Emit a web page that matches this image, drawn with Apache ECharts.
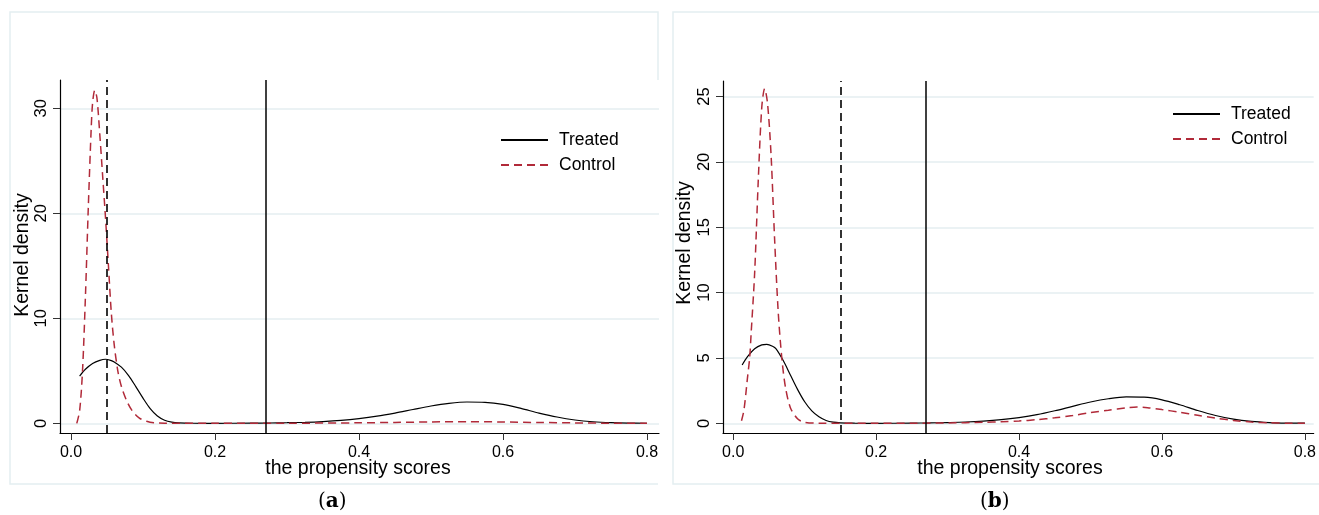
<!DOCTYPE html>
<html>
<head>
<meta charset="utf-8">
<script src="https://cdn.jsdelivr.net/npm/echarts@6/dist/echarts.min.js"></script>
<style>
html,body{margin:0;padding:0;background:#fff;}
#main{width:1319px;height:515px;}
</style>
</head>
<body>
<div id="main"></div>
<script>
// ---- data ----
const xTickValues = [0, 0.2, 0.4, 0.6, 0.8];
const yTickValuesA = [0, 10, 20, 30];
const yTickValuesB = [0, 5, 10, 15, 20, 25];
const seriesNames = ['Treated', 'Control'];
const cutoffDashed = [0.052, 0.1535];   // panel a, panel b
const cutoffSolid = [0.266, 0.266];     // panel a, panel b

// panel (a)
const treatedAx = [0.012, 0.02, 0.03, 0.04, 0.048, 0.055, 0.06, 0.07, 0.08, 0.09, 0.1, 0.11, 0.12, 0.13, 0.14, 0.15, 0.17, 0.2, 0.25, 0.275, 0.3, 0.325, 0.35, 0.375, 0.4, 0.425, 0.45, 0.475, 0.5, 0.525, 0.55, 0.575, 0.6, 0.625, 0.65, 0.675, 0.7, 0.725, 0.75, 0.775, 0.8];
const treatedAy = [4.5, 5.15, 5.7, 6.0, 6.1, 6.0, 5.85, 5.35, 4.55, 3.5, 2.4, 1.4, 0.7, 0.3, 0.12, 0.05, 0.01, 0.0, 0.02, 0.03, 0.06, 0.1, 0.17, 0.28, 0.45, 0.68, 0.98, 1.32, 1.65, 1.9, 2.03, 2.0, 1.8, 1.42, 0.98, 0.6, 0.32, 0.15, 0.06, 0.02, 0.01];
const controlAx = [0.008, 0.012, 0.016, 0.02, 0.024, 0.028, 0.03, 0.033, 0.036, 0.04, 0.044, 0.048, 0.052, 0.056, 0.06, 0.065, 0.07, 0.077, 0.085, 0.095, 0.105, 0.115, 0.13, 0.2, 0.3, 0.4, 0.45, 0.5, 0.55, 0.6, 0.65, 0.7, 0.75, 0.8];
const controlAy = [0.0, 1.2, 5.0, 12.0, 20.5, 28.0, 30.5, 31.7, 31.0, 27.5, 23.5, 19.5, 15.0, 10.5, 7.5, 5.0, 3.5, 2.2, 1.2, 0.5, 0.2, 0.06, 0.02, 0.0, 0.01, 0.05, 0.09, 0.13, 0.16, 0.13, 0.08, 0.04, 0.01, 0.0];

// panel (b)
const treatedBx = [0.0125, 0.02, 0.03, 0.04, 0.047, 0.055, 0.06, 0.07, 0.08, 0.09, 0.1, 0.11, 0.12, 0.13, 0.14, 0.15, 0.17, 0.2, 0.25, 0.275, 0.3, 0.325, 0.35, 0.375, 0.4, 0.425, 0.45, 0.475, 0.5, 0.525, 0.55, 0.575, 0.6, 0.625, 0.65, 0.675, 0.7, 0.725, 0.75, 0.775, 0.8];
const treatedBy = [4.46, 5.1, 5.7, 6.0, 6.04, 5.9, 5.7, 4.8, 3.7, 2.6, 1.65, 0.95, 0.5, 0.22, 0.09, 0.04, 0.01, 0.0, 0.02, 0.03, 0.06, 0.1, 0.17, 0.28, 0.44, 0.66, 0.96, 1.3, 1.63, 1.88, 2.02, 2.0, 1.8, 1.42, 0.98, 0.6, 0.32, 0.15, 0.06, 0.02, 0.01];
const controlBx = [0.0116, 0.015, 0.02, 0.023, 0.025, 0.03, 0.035, 0.04, 0.044, 0.048, 0.053, 0.058, 0.063, 0.068, 0.073, 0.08, 0.09, 0.1, 0.12, 0.2, 0.25, 0.3, 0.35, 0.375, 0.4, 0.425, 0.45, 0.475, 0.5, 0.525, 0.55, 0.565, 0.58, 0.6, 0.625, 0.65, 0.675, 0.7, 0.725, 0.75, 0.775, 0.8];
const controlBy = [0.2, 1.0, 3.5, 5.0, 6.8, 11.5, 18.5, 24.2, 25.6, 24.5, 20.5, 14.0, 8.5, 5.0, 2.8, 1.2, 0.35, 0.08, 0.01, 0.0, 0.01, 0.03, 0.08, 0.12, 0.18, 0.28, 0.42, 0.6, 0.82, 1.0, 1.18, 1.25, 1.2, 1.05, 0.85, 0.62, 0.4, 0.22, 0.1, 0.04, 0.01, 0.0];

// ---- chart ----
const RED = '#b12a39';
const GRIDC = '#e4eef1';
const FONT = '"Liberation Sans", Arial, sans-serif';
function pairs(xs, ys) { return xs.map((x, i) => [x, ys[i]]); }

function xAxisDef(gi, min, max) {
  return {
    gridIndex: gi, type: 'value', min: min, max: max,
    axisLine: { onZero: false, lineStyle: { color: '#000', width: 1.2 } },
    axisTick: { show: true, length: 7, customValues: xTickValues, lineStyle: { color: '#333', width: 1 } },
    axisLabel: { customValues: xTickValues, formatter: v => v.toFixed(1), color: '#000', fontSize: 16, margin: 12, fontFamily: FONT },
    splitLine: { show: false }
  };
}
function yAxisDef(gi, min, max, ticks) {
  return {
    gridIndex: gi, type: 'value', min: min, max: max,
    axisLine: { show: true, onZero: false, lineStyle: { color: '#000', width: 1.2 } },
    axisTick: { show: true, length: 7, customValues: ticks, lineStyle: { color: '#333', width: 1 } },
    axisLabel: { customValues: ticks, rotate: 90, color: '#000', fontSize: 16.5, margin: 10, fontFamily: FONT },
    splitLine: { show: true, lineStyle: { color: GRIDC, width: 1.5 } }
  };
}
function lineSeries(name, gi, data, isControl, marks) {
  const s = {
    name: name, type: 'line', xAxisIndex: gi, yAxisIndex: gi,
    data: data, symbol: 'none', showSymbol: false, smooth: 0.3,
    lineStyle: isControl ? { color: RED, width: 1.5, type: [8, 5] } : { color: '#000', width: 1.2 },
    itemStyle: { color: isControl ? RED : '#000' },
    z: isControl ? 4 : 3
  };
  if (marks) {
    s.markLine = {
      silent: true, symbol: ['none', 'none'], label: { show: false },
      data: [
        { xAxis: marks[0], lineStyle: { color: '#000', width: 1.6, type: [8, 5] } },
        { xAxis: marks[1], lineStyle: { color: '#000', width: 1.5, type: 'solid' } }
      ]
    };
  }
  return s;
}
function legendDef(left, top) {
  return {
    data: seriesNames, orient: 'vertical', left: left, top: top,
    itemWidth: 47, itemHeight: 18, itemGap: 7, padding: 0, selectedMode: false,
    itemStyle: { opacity: 0, borderWidth: 0 },
    textStyle: { fontSize: 17.5, color: '#000', fontFamily: FONT, lineHeight: 18, padding: [0, 0, 0, 6] }
  };
}
function caption(letter, cx) {
  return {
    type: 'text', left: cx - 14, top: 492,
    style: {
      text: '{p|(}{b|' + letter + '}{p|)}',
      rich: {
        p: { fontSize: 20, fontFamily: '"DejaVu Serif", "Liberation Serif", serif', fill: '#000' },
        b: { fontSize: 20, fontWeight: 'bold', fontFamily: '"DejaVu Serif", "Liberation Serif", serif', fill: '#000' }
      }
    }
  };
}
function textEl(txt, x, y, rot) {
  return {
    type: 'text', x: x, y: y, rotation: rot || 0,
    style: { text: txt, fontSize: 19.5, fontFamily: FONT, fill: '#000', align: 'center', verticalAlign: 'middle' }
  };
}

const chart = echarts.init(document.getElementById('main'), null, { renderer: 'canvas' });
chart.setOption({
  animation: false,
  backgroundColor: '#fff',
  textStyle: { fontFamily: FONT },
  grid: [
    { left: 60, top: 80, width: 599, height: 353 },
    { left: 723, top: 81, width: 596, height: 352 }
  ],
  xAxis: [xAxisDef(0, -0.01528, 0.81667), xAxisDef(1, -0.01429, 0.8123)],
  yAxis: [yAxisDef(0, -0.92, 32.69, yTickValuesA), yAxisDef(1, -0.74, 26.19, yTickValuesB)],
  legend: [legendDef(500, 131), legendDef(1172, 105)],
  series: [
    lineSeries('Treated', 0, pairs(treatedAx, treatedAy), false, [cutoffDashed[0], cutoffSolid[0]]),
    lineSeries('Control', 0, pairs(controlAx, controlAy), true, null),
    lineSeries('Treated', 1, pairs(treatedBx, treatedBy), false, [cutoffDashed[1], cutoffSolid[1]]),
    lineSeries('Control', 1, pairs(controlBx, controlBy), true, null)
  ],
  graphic: [
    { type: 'polyline', shape: { points: [[658, 80], [658, 12], [10, 12], [10, 484], [658, 484]] }, style: { stroke: GRIDC, lineWidth: 1.5, fill: null }, silent: true },
    { type: 'polyline', shape: { points: [[1319, 12], [673, 12], [673, 484], [1319, 484]] }, style: { stroke: GRIDC, lineWidth: 1.5, fill: null }, silent: true },
    textEl('the propensity scores', 358, 469, 0),
    textEl('the propensity scores', 1010, 469, 0),
    textEl('Kernel density', 23, 255, Math.PI / 2),
    textEl('Kernel density', 685, 243, Math.PI / 2),
    caption('a', 332),
    caption('b', 994)
  ]
});
</script>
</body>
</html>
